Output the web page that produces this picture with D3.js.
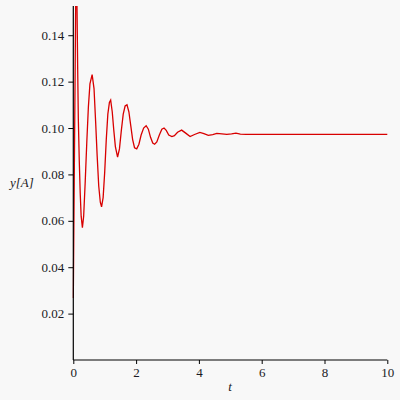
<!DOCTYPE html>
<html><head><meta charset="utf-8">
<script src="https://cdn.jsdelivr.net/npm/d3@7"></script>
<style>body{margin:0;background:#f8f8f8}svg{display:block}
svg text{font-family:"Liberation Serif","DejaVu Serif","Times New Roman",serif !important;}</style>
</head><body>
<script>
const tValues = [0,0.03,0.06,0.08,0.10,0.12,0.14,0.16,0.19,0.22,0.25,0.29,0.33,0.38,0.43,0.48,0.53,0.60,0.66,0.71,0.76,0.81,0.86,0.90,0.95,1.00,1.05,1.10,1.15,1.19,1.24,1.29,1.34,1.41,1.47,1.53,1.59,1.65,1.71,1.77,1.83,1.89,1.95,2.02,2.09,2.16,2.24,2.32,2.39,2.46,2.53,2.59,2.66,2.74,2.82,2.89,2.96,3.04,3.14,3.22,3.32,3.45,3.58,3.72,3.86,4.03,4.16,4.30,4.44,4.57,4.73,4.89,5.04,5.18,5.32,5.5,10];
const yValues = [0.0267,0.077,0.127,0.160,0.172,0.150,0.125,0.104,0.086,0.072,0.062,0.057,0.062,0.077,0.094,0.109,0.119,0.123,0.117,0.103,0.088,0.075,0.068,0.066,0.070,0.081,0.095,0.106,0.111,0.112,0.107,0.099,0.092,0.0875,0.091,0.099,0.106,0.1095,0.110,0.107,0.101,0.095,0.0915,0.091,0.093,0.097,0.100,0.101,0.0995,0.096,0.0935,0.093,0.094,0.097,0.0995,0.100,0.099,0.097,0.0963,0.0967,0.0982,0.0991,0.0978,0.0963,0.0972,0.0981,0.0976,0.0968,0.0972,0.0977,0.0975,0.0973,0.0975,0.0978,0.0974,0.0973,0.0973];
const xMajorTicks = [0,2,4,6,8,10];
const xMinorTicks = [1,3,5,7,9];
const yMajorTicks = [0.02,0.04,0.06,0.08,0.10,0.12,0.14];
const yMinorTicks = [0.01,0.03,0.05,0.07,0.09,0.11,0.13,0.15];
const xLabel = "t";
const yLabel = "y[A]";

const W = 400, H = 400;
const svg = d3.select("body").append("svg").attr("width", W).attr("height", H);
svg.append("rect").attr("width", W).attr("height", H).attr("fill", "#f8f8f8");

const x = d3.scaleLinear().domain([0, 10]).range([73.3, 387.3]);
const y = d3.scaleLinear().domain([0, 0.1526]).range([360, 6]);

svg.append("defs").append("clipPath").attr("id", "clip")
  .append("rect").attr("x", x(0) - 1).attr("y", y(0.1526)).attr("width", x(10) - x(0) + 3).attr("height", y(0) - y(0.1526));

const data = tValues.map((t, i) => [t, yValues[i]]);
svg.append("path")
  .attr("clip-path", "url(#clip)")
  .attr("d", d3.line().x(d => x(d[0])).y(d => y(d[1]))(data))
  .attr("fill", "none").attr("stroke", "#d80000").attr("stroke-width", 1.3);

const tc = "#1a1a24";

// x axis
const gx = svg.append("g").attr("transform", `translate(0,${y(0)})`);
gx.call(d3.axisBottom(x).tickValues(xMinorTicks).tickSize(4).tickFormat(""));
gx.call(d3.axisBottom(x).tickValues(xMajorTicks).tickSize(4).tickPadding(4).tickFormat(d3.format("d")));
gx.selectAll(".domain").attr("d", `M${x(0)},0H${x(10)}`).attr("stroke", "#000").attr("stroke-width", 1.2);
gx.selectAll("text").attr("font-size", 13).attr("fill", tc);

// y axis
const gy = svg.append("g").attr("transform", `translate(${x(0)},0)`);
gy.call(d3.axisLeft(y).tickValues(yMinorTicks).tickSize(4).tickFormat(""));
gy.call(d3.axisLeft(y).tickValues(yMajorTicks).tickSize(5).tickPadding(4).tickFormat(d3.format(".2f")));
gy.selectAll(".domain").attr("d", `M0,${y(0)}V${y(0.1526)}`).attr("stroke", "#000").attr("stroke-width", 1.2);
gy.selectAll("text").attr("font-size", 13).attr("fill", tc);

svg.append("text").attr("x", 230).attr("y", 391).attr("text-anchor", "middle")
  .attr("font-style", "italic").attr("font-size", 13).attr("fill", tc).text(xLabel);
svg.append("text").attr("x", 10).attr("y", 187)
  .attr("font-style", "italic").attr("font-size", 13).attr("fill", tc).text(yLabel);
</script>
</body></html>
